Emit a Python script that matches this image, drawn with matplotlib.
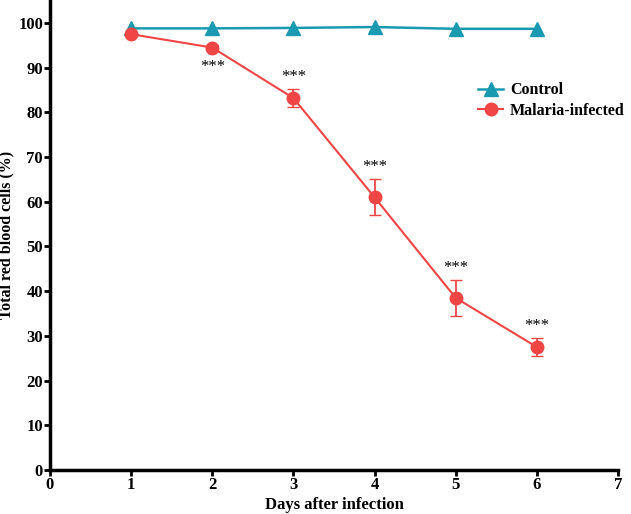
import matplotlib
matplotlib.use("Agg")
import matplotlib.pyplot as plt

days = [1, 2, 3, 4, 5, 6]
control = [98.8, 98.8, 98.9, 99.1, 98.7, 98.7]
infected = [97.5, 94.5, 83.2, 61.0, 38.5, 27.5]
infected_err = [0.3, 0.6, 2.0, 4.0, 4.0, 2.0]
stars = ["", "***", "***", "***", "***", "***"]
star_above = [True, False, True, True, True, True]

plt.rcParams['font.family'] = 'Liberation Serif'
plt.rcParams['font.weight'] = 'bold'

fig = plt.figure(figsize=(6.31, 5.14), dpi=100)
ax = fig.add_axes([50 / 631, 44 / 514, 568 / 631, 447 * 1.05 / 514])

teal = "#1a9ab0"
red = "#f04545"
ax.plot(days, control, color=teal, marker="^", markersize=10, lw=1.8, label="Control")
ax.errorbar(days, infected, yerr=infected_err, color=red, fmt="none", capsize=4, elinewidth=1.3)
ax.plot(days, infected, color=red, marker="o", markersize=9, lw=1.5, label="Malaria-infected")

for d, v, e, s, up in zip(days, infected, infected_err, stars, star_above):
    if not s:
        continue
    if up:
        ax.text(d, v + e + 1.0, s, fontsize=12, fontweight='normal', ha="center", va="bottom")
    else:
        ax.text(d, v - e - 2.0, s, fontsize=12, fontweight='normal', ha="center", va="top")

ax.set_xlim(0, 7)
ax.set_ylim(0, 105)
ax.set_xticks(range(0, 8))
ax.set_yticks(range(0, 101, 10))
for side in ["top", "right"]:
    ax.spines[side].set_visible(False)
for side in ["left", "bottom"]:
    ax.spines[side].set_linewidth(2.5)
ax.tick_params(width=2, length=4, labelsize=12, pad=1)
for lab in ax.get_xticklabels() + ax.get_yticklabels():
    lab.set_fontweight("bold")

ax.set_xlabel("Days after infection", fontsize=12, fontweight="bold", labelpad=3)
ax.set_ylabel("Total red blood cells (%)", fontsize=11.5, fontweight="bold")
ax.yaxis.set_label_coords(-0.062, 0.5)

ax.legend(loc="upper left", bbox_to_anchor=(0.742, 0.84), frameon=False, fontsize=11.5,
          handlelength=1.6, handletextpad=0.4, borderaxespad=0, labelspacing=0.3)

fig.savefig("out.png")
